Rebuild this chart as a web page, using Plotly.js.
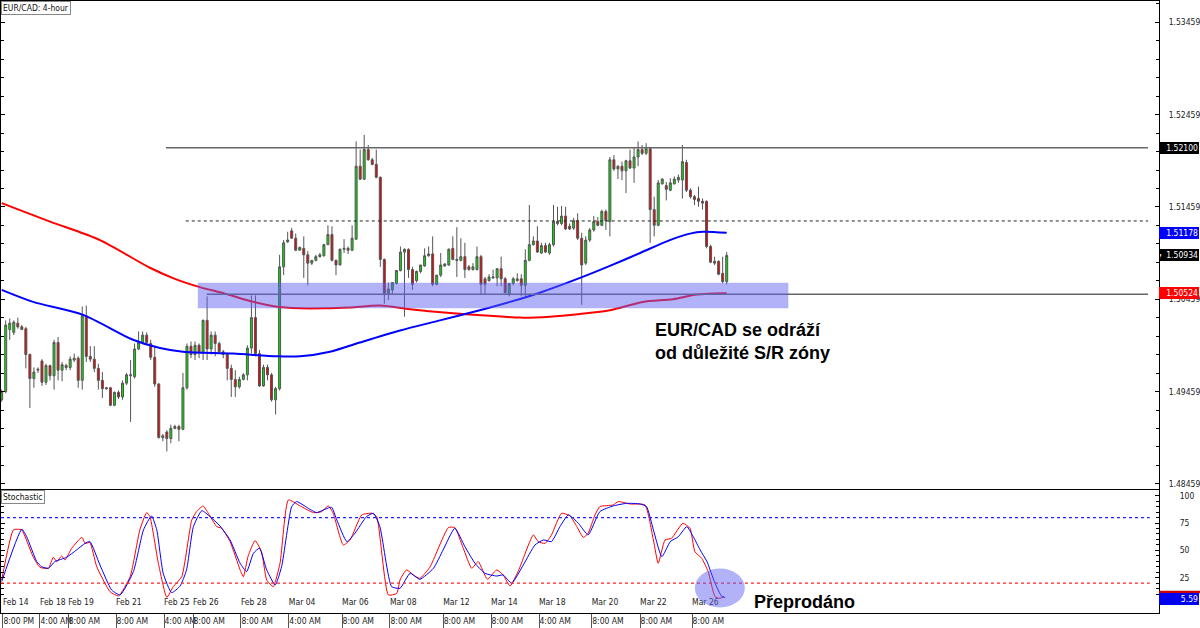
<!DOCTYPE html>
<html>
<head>
<meta charset="utf-8">
<script src="https://cdn.plot.ly/plotly-3.0.1.min.js"></script>
<style>html,body{margin:0;padding:0;background:#fff;}#chart{width:1200px;height:628px;}</style>
</head>
<body>
<div id="chart"></div>
<script>
// ---- EUR/CAD 4-hour candles (index 0 = first visible bar) ----
const open = [1.4937,1.4946,1.5013,1.5010,1.5020,1.5016,1.5014,1.4986,1.4960,1.4969,
1.4979,1.4956,1.4974,1.4963,1.4999,1.4969,1.4974,1.4972,1.4980,1.4982,
1.4958,1.5028,1.4984,1.4981,1.4971,1.4958,1.4950,1.4950,1.4931,1.4945,
1.4940,1.4955,1.4963,1.4962,1.4992,1.4999,1.5007,1.4998,1.4983,1.4954,
1.4896,1.4902,1.4895,1.4906,1.4908,1.4905,1.4950,1.4995,1.4986,1.4996,
1.4988,1.5023,1.4992,1.5007,1.4998,1.4989,1.4986,1.4971,1.4959,1.4951,
1.4959,1.4964,1.4993,1.5026,1.4987,1.4952,1.4972,1.4964,1.4937,1.4949,
1.5081,1.5108,1.5120,1.5112,1.5099,1.5101,1.5094,1.5085,1.5088,1.5092,
1.5093,1.5105,1.5116,1.5088,1.5083,1.5100,1.5101,1.5099,1.5111,1.5190,
1.5176,1.5208,1.5197,1.5192,1.5178,1.5089,1.5052,1.5056,1.5063,1.5077,
1.5097,1.5100,1.5078,1.5066,1.5076,1.5082,1.5093,1.5095,1.5062,1.5072,
1.5082,1.5083,1.5101,1.5089,1.5088,1.5092,1.5081,1.5078,1.5078,1.5092,
1.5068,1.5066,1.5069,1.5069,1.5079,1.5068,1.5051,1.5063,1.5066,1.5068,
1.5061,1.5088,1.5105,1.5109,1.5096,1.5104,1.5096,1.5105,1.5130,1.5128,
1.5136,1.5125,1.5123,1.5131,1.5112,1.5085,1.5110,1.5121,1.5130,1.5126,
1.5141,1.5130,1.5197,1.5187,1.5190,1.5185,1.5196,1.5188,1.5200,1.5208,
1.5204,1.5209,1.5143,1.5126,1.5171,1.5169,1.5164,1.5171,1.5175,1.5175,
1.5194,1.5164,1.5157,1.5155,1.5152,1.5152,1.5103,1.5087,1.5087,1.5074,
1.5065];
const high = [1.4948,1.5023,1.5025,1.5023,1.5026,1.5018,1.5016,1.4987,1.4972,1.4972,
1.4981,1.4976,1.4975,1.5002,1.5005,1.4978,1.4976,1.4984,1.4987,1.4984,
1.5038,1.5039,1.4995,1.4995,1.4976,1.4967,1.4951,1.4951,1.4946,1.4947,
1.4958,1.4966,1.4980,1.4998,1.5011,1.5011,1.5010,1.5002,1.4995,1.4955,
1.4900,1.4904,1.4910,1.4910,1.4910,1.4966,1.4998,1.5000,1.5000,1.4998,
1.5024,1.5049,1.5011,1.5011,1.5000,1.4991,1.4987,1.4975,1.4969,1.4962,
1.4966,1.4996,1.5050,1.5050,1.4991,1.4975,1.4975,1.4966,1.4951,1.5094,
1.5110,1.5119,1.5123,1.5117,1.5103,1.5114,1.5098,1.5088,1.5094,1.5096,
1.5106,1.5126,1.5125,1.5089,1.5101,1.5111,1.5103,1.5126,1.5217,1.5208,
1.5224,1.5213,1.5199,1.5208,1.5179,1.5090,1.5064,1.5064,1.5077,1.5103,
1.5101,1.5101,1.5081,1.5077,1.5083,1.5101,1.5103,1.5114,1.5072,1.5096,
1.5085,1.5101,1.5114,1.5124,1.5112,1.5107,1.5083,1.5085,1.5103,1.5094,
1.5070,1.5073,1.5078,1.5079,1.5092,1.5070,1.5063,1.5070,1.5074,1.5073,
1.5100,1.5148,1.5114,1.5125,1.5107,1.5107,1.5107,1.5148,1.5146,1.5147,
1.5146,1.5128,1.5134,1.5139,1.5118,1.5114,1.5123,1.5136,1.5135,1.5143,
1.5143,1.5200,1.5202,1.5191,1.5195,1.5197,1.5208,1.5210,1.5217,1.5213,
1.5215,1.5211,1.5157,1.5175,1.5177,1.5173,1.5177,1.5179,1.5181,1.5213,
1.5197,1.5166,1.5159,1.5168,1.5155,1.5153,1.5105,1.5092,1.5088,1.5092,
1.5097];
const low = [1.4935,1.4944,1.5002,1.5007,1.5014,1.5013,1.4971,1.4928,1.4950,1.4966,
1.4952,1.4953,1.4958,1.4948,1.4958,1.4957,1.4969,1.4969,1.4978,1.4950,
1.4948,1.4978,1.4978,1.4967,1.4948,1.4939,1.4948,1.4930,1.4930,1.4938,
1.4937,1.4953,1.4913,1.4960,1.4991,1.4997,1.4997,1.4980,1.4951,1.4895,
1.4892,1.4881,1.4890,1.4905,1.4892,1.4904,1.4948,1.4982,1.4980,1.4982,
1.4980,1.4980,1.4986,1.4984,1.4987,1.4982,1.4958,1.4940,1.4940,1.4949,
1.4958,1.4958,1.4987,1.4984,1.4951,1.4951,1.4958,1.4935,1.4921,1.4947,
1.5072,1.5107,1.5112,1.5098,1.5099,1.5069,1.5061,1.5083,1.5087,1.5091,
1.5092,1.5105,1.5087,1.5072,1.5083,1.5096,1.5095,1.5098,1.5110,1.5175,
1.5175,1.5196,1.5191,1.5177,1.5081,1.5041,1.5045,1.5052,1.5062,1.5076,
1.5027,1.5069,1.5056,1.5064,1.5074,1.5081,1.5092,1.5060,1.5061,1.5070,
1.5081,1.5082,1.5088,1.5070,1.5087,1.5069,1.5077,1.5077,1.5077,1.5051,
1.5051,1.5065,1.5068,1.5060,1.5060,1.5052,1.5049,1.5061,1.5065,1.5049,
1.5049,1.5087,1.5104,1.5096,1.5095,1.5096,1.5094,1.5103,1.5126,1.5126,
1.5121,1.5121,1.5121,1.5110,1.5040,1.5083,1.5108,1.5119,1.5125,1.5125,
1.5121,1.5114,1.5185,1.5176,1.5175,1.5161,1.5187,1.5172,1.5190,1.5202,
1.5202,1.5107,1.5114,1.5125,1.5170,1.5153,1.5163,1.5170,1.5172,1.5155,
1.5162,1.5155,1.5148,1.5146,1.5143,1.5101,1.5085,1.5083,1.5072,1.5063,
1.5062];
const close = [1.4946,1.5018,1.5020,1.5021,1.5016,1.5013,1.4986,1.4960,1.4967,1.4970,
1.4956,1.4974,1.4963,1.4999,1.4969,1.4975,1.4972,1.4981,1.4982,1.4958,
1.5028,1.4984,1.4981,1.4971,1.4958,1.4949,1.4949,1.4931,1.4945,1.4940,
1.4955,1.4964,1.4964,1.4992,1.4999,1.5007,1.4999,1.4983,1.4954,1.4896,
1.4898,1.4895,1.4906,1.4908,1.4905,1.4950,1.4995,1.4986,1.4996,1.4988,
1.5023,1.4992,1.5007,1.4998,1.4989,1.4986,1.4971,1.4959,1.4951,1.4959,
1.4964,1.4993,1.5026,1.4987,1.4952,1.4972,1.4964,1.4937,1.4949,1.5081,
1.5107,1.5110,1.5112,1.5099,1.5102,1.5094,1.5085,1.5088,1.5092,1.5094,
1.5105,1.5116,1.5088,1.5083,1.5100,1.5101,1.5099,1.5112,1.5190,1.5176,
1.5208,1.5197,1.5192,1.5178,1.5089,1.5052,1.5057,1.5064,1.5077,1.5097,
1.5100,1.5078,1.5062,1.5076,1.5083,1.5093,1.5095,1.5062,1.5072,1.5083,
1.5084,1.5100,1.5089,1.5088,1.5092,1.5078,1.5078,1.5081,1.5092,1.5062,
1.5062,1.5070,1.5070,1.5079,1.5068,1.5053,1.5063,1.5068,1.5068,1.5061,
1.5088,1.5105,1.5109,1.5097,1.5104,1.5097,1.5105,1.5130,1.5128,1.5136,
1.5122,1.5122,1.5131,1.5112,1.5083,1.5110,1.5121,1.5130,1.5126,1.5141,
1.5131,1.5197,1.5187,1.5190,1.5185,1.5196,1.5188,1.5200,1.5208,1.5204,
1.5209,1.5143,1.5126,1.5172,1.5176,1.5165,1.5172,1.5176,1.5178,1.5195,
1.5164,1.5157,1.5154,1.5152,1.5150,1.5103,1.5086,1.5085,1.5073,1.5065,
1.50934];

// ---- moving averages (read at sample bars) ----
const redMAx  = [0,12.0,24.4,36.8,43.0,49.2,55.4,61.6,67.9,74.1,80.3,86.5,93.9,101.4,111.3,121.2,128.7,136.1,143.6,151.0,159.2,166.7,172.6,180];
const redMA   = [1.5150,1.5130,1.5110,1.5080,1.5068,1.5059,1.5052,1.5044,1.5038,1.5036,1.5036,1.5037,1.5039,1.5035,1.5031,1.5028,1.5026,1.5027,1.5030,1.5034,1.5043,1.5046,1.5051,1.50524];
const blueMAx = [0,7.8,20.2,32.6,39.3,45.0,57.4,68.4,74.1,81.5,88.9,98.9,108.8,118.7,126.2,133.6,143.6,151.0,158.5,165.9,170.9,174.1,180];
const blueMA  = [1.5056,1.5043,1.5029,1.5002,1.4993,1.4989,1.4987,1.4984,1.4984,1.4989,1.4999,1.5012,1.5023,1.5034,1.5043,1.5053,1.5069,1.5082,1.5096,1.5110,1.5117,1.5119,1.51178];

// ---- stochastic (%K red, %D blue) ----
const stochKx = [0,2.9,4.1,5.0,7.8,9.5,11.6,12.8,13.7,14.9,15.7,17.4,19.9,20.7,21.9,23.6,26.9,29.0,31.9,34.3,36.0,36.8,38.9,41.0,42.6,44.7,47.2,48.4,50.0,51.3,53.4,54.6,56.7,59.2,60.0,61.2,62.9,64.5,65.8,67.4,69.1,71.2,74.1,77.4,79.4,81.1,82.3,84.8,86.5,89.4,91.9,93.1,96.0,98.1,98.9,100.5,102.2,103.8,106.3,110.9,112.5,114.6,116.7,118.3,120.6,122.9,124.5,126.2,128.3,132.0,133.2,134.9,136.5,139.0,141.1,142.8,144.4,145.6,147.3,148.5,151.8,153.1,156.0,159.7,161.8,163.0,164.7,166.3,169.1,170.9,172.1,173.8,175.4,177.1,178.3,179.3];
const stochK  = [22.9,68.7,69.3,68.7,44.2,34.5,33.6,43.6,39.7,44.9,41.2,51.9,61.9,56.4,57.1,35.1,12.2,8.3,26,68.7,84.5,80.9,38.2,7.0,16.8,25.9,77.8,85.4,90.6,83.9,71.7,70.2,58,32.1,25.9,44.9,58.9,48.8,22.9,16.8,38.2,96.1,90.6,84.5,85.4,90.6,83.9,54.9,59.5,82.4,83.9,80.9,9.2,10.7,22.9,32.1,27.5,24.4,34.5,70.8,70.8,51.9,33.6,39.7,23.5,32.1,27.5,17.4,31.4,64.1,58,56.4,64.1,83.9,81.5,71.7,61.9,65.6,82.4,90,91.5,94.6,92.4,91.5,59.5,38.2,59.5,61,74.7,70.2,48.8,42.7,30.5,7.7,6.1,7.7];
const stochDx = [0,5.0,6.2,8.7,9.9,11.6,13.2,16.1,18.6,20.7,21.9,24.4,27.3,29.4,32.7,35.2,37.2,38.5,40.1,42.2,44.3,45.9,47.6,49.7,51.7,54.2,56.7,59.2,60.8,62.5,64.0,65.8,67.9,69.5,72.0,73.2,76.5,78.2,80.3,81.9,83.2,85.7,87.7,90.6,92.3,93.9,96.8,98.9,101.4,103.8,107.2,109.6,112.5,115.0,117.5,120.0,122.9,124.5,126.6,129.5,132.4,134.5,136.5,138.6,140.7,143.2,145.6,148.5,151.8,155.2,158.5,160.1,161.8,163.9,166.0,168.0,170.1,171.7,173.4,175.1,177.1,178.8,179.6];
const stochD  = [21.4,69.3,62.5,39.7,35.1,33.6,39.7,43.6,50.4,56.4,58,36.6,13.7,9.2,30.5,68.7,81.5,68.7,29,11.3,17.4,32.1,71.7,86.3,80.9,72.3,59.5,38.2,30.5,47.3,51.9,32.1,18.3,35.1,90,94.6,87.6,84.5,87.6,89.4,77.8,58,65.6,80.9,83.9,71.7,16.8,15.3,29,23.5,33.6,50.4,70.2,53.4,38.2,29,26.5,27.5,19.9,36.6,54.9,59.5,58,71.7,82.4,74.7,64.1,85.4,90.6,93,92.4,90,68.7,44.2,58,62.5,71.7,62.5,50.4,39.7,19.9,7.7,7.0];

// ---- axis labels ----
const tickAt    = [0.3,9.5,16.5,28.4,40.3,47.5,59.4,71.3,84.5,96.4,109.6,121.5,133.4,146.5,158.5,171.4];
const dateLbl   = ["Feb 14","Feb 18","Feb 19","Feb 21","Feb 25","Feb 26","Feb 28","Mar 04","Mar 06","Mar 08","Mar 12","Mar 14","Mar 18","Mar 20","Mar 22","Mar 26"];
const timeLbl   = ["8:00 PM","4:00 AM","8:00 AM","8:00 AM","4:00 AM","8:00 AM","8:00 AM","4:00 AM","8:00 AM","8:00 AM","8:00 AM","8:00 AM","4:00 AM","8:00 AM","8:00 AM","8:00 AM"];
const priceTicks = [1.48459,1.49459,1.50459,1.51459,1.52459,1.53459];
const stochTicks = [0,25,50,75,100];

// ---- levels & markers ----
const resistance = 1.52100, midLevel = 1.51307, support = 1.50513;
const zoneLow = 1.50361, zoneHigh = 1.50638;
const lastK = 11.9, lastD = 5.59;

const NF = "'DejaVu Sans Condensed','Liberation Sans Narrow','Arial Narrow',sans-serif";
const BF = "'Liberation Sans',Arial,sans-serif";
const SF = 8.5;
const idx = open.map((_, i) => i);
const xRange = [-0.17, 287.33];

const traces = [
  {type:'candlestick', x:idx, open:open, high:high, low:low, close:close, xaxis:'x', yaxis:'y',
   increasing:{fillcolor:'#00e000', line:{color:'#555', width:1}},
   decreasing:{fillcolor:'#ee0000', line:{color:'#555', width:1}},
   hoverinfo:'skip', showlegend:false},
  {type:'scatter', mode:'lines', x:redMAx, y:redMA, xaxis:'x', yaxis:'y',
   line:{color:'#ff0000', width:2, shape:'spline', smoothing:0.8}, hoverinfo:'skip'},
  {type:'scatter', mode:'lines', x:blueMAx, y:blueMA, xaxis:'x', yaxis:'y',
   line:{color:'#0000ff', width:2, shape:'spline', smoothing:0.8}, hoverinfo:'skip'},
  {type:'scatter', mode:'lines', x:stochKx, y:stochK, xaxis:'x2', yaxis:'y2',
   line:{color:'#ff0000', width:1, shape:'spline', smoothing:0.5}, hoverinfo:'skip'},
  {type:'scatter', mode:'lines', x:stochDx, y:stochD, xaxis:'x2', yaxis:'y2',
   line:{color:'#0000ff', width:1, shape:'spline', smoothing:0.5}, hoverinfo:'skip'},
  {type:'scatter', mode:'markers', x:[tickAt[0]], y:[50], xaxis:'x3', yaxis:'y2', marker:{opacity:0}, hoverinfo:'skip'},
  {type:'scatter', mode:'markers', x:[tickAt[0]], y:[50], xaxis:'x4', yaxis:'y2', marker:{opacity:0}, hoverinfo:'skip'}
];

const mainDomain = [0.2026, 1];
const stochDomain = [0, 0.20098];

const shapes = [
  {type:'line', xref:'x', yref:'y', x0:40.8, x1:284.6, y0:resistance, y1:resistance, line:{color:'#666', width:1.5}},
  {type:'line', xref:'x', yref:'y', x0:45.7, x1:284.6, y0:midLevel, y1:midLevel, line:{color:'#222', width:1, dash:'dot'}},
  {type:'line', xref:'x', yref:'y', x0:50.9, x1:284.6, y0:support, y1:support, line:{color:'#666', width:1.5}},
  {type:'rect', xref:'x', yref:'y', x0:48.7, x1:195.3, y0:zoneLow, y1:zoneHigh, fillcolor:'rgba(95,95,240,0.48)', line:{width:0}},
  {type:'line', xref:'paper', yref:'y2', x0:0, x1:0.992, y0:80, y1:80, line:{color:'#2222ff', width:1.2, dash:'dot'}},
  {type:'line', xref:'paper', yref:'y2', x0:0, x1:0.992, y0:20, y1:20, line:{color:'#ff2222', width:1.2, dash:'dot'}},
  {type:'circle', xref:'x2', yref:'y2', x0:172.1, x1:184.5, y0:-2.2, y1:33.4, fillcolor:'rgba(95,95,240,0.48)', line:{width:0}},
  {type:'rect', xref:'paper', yref:'y2', x0:1, x1:1.0354, y0:lastK-1.2, y1:lastK+1.2, fillcolor:'#cc0000', line:{width:0}}
];

function box(y, yref, txt, bg){
  return {xref:'paper', x:1, xanchor:'left', yref:yref, y:y, yanchor:'middle', text:txt, showarrow:false,
    bgcolor:bg, font:{family:NF, size:SF, color:'#fff'}, width:38, height:10, align:'right', borderpad:1, borderwidth:0};
}

const annotations = [
  {xref:'paper', x:0, xanchor:'left', yref:'paper', y:1, yanchor:'top', text:'EUR/CAD: 4-hour', showarrow:false,
   font:{family:NF, size:SF, color:'#111'}, bgcolor:'#fff', bordercolor:'#888', borderwidth:1, borderpad:1},
  {xref:'paper', x:0, xanchor:'left', yref:'y2 domain', y:1, yanchor:'top', text:'Stochastic', showarrow:false,
   font:{family:NF, size:SF, color:'#111'}, bgcolor:'#fff', bordercolor:'#888', borderwidth:1, borderpad:1},
  box(resistance, 'y', '1.52100', '#000'),
  box(blueMA[blueMA.length-1], 'y', '1.51178', '#0000ff'),
  box(close[close.length-1], 'y', "<span style='font-size:6px'>▼</span>  1.50934", '#000'),
  box(redMA[redMA.length-1], 'y', '1.50524', '#ff0000'),
  box(lastD, 'y2', '5.59', '#0000ee'),
  {xref:'x', x:161.6, xanchor:'left', yref:'y', y:1.49996, yanchor:'middle', align:'left', showarrow:false,
   text:'<b>EUR/CAD se odráží<br>od důležité S/R zóny</b>', font:{family:BF, size:18, color:'#000'}},
  {xref:'x2', x:186.4, xanchor:'left', yref:'y2', y:3.0, yanchor:'middle', showarrow:false,
   text:'<b>Přeprodáno</b>', font:{family:BF, size:18, color:'#000'}}
];

const layout = {
  width:1200, height:628, margin:{l:1, r:41, t:1, b:15},
  paper_bgcolor:'#fff', plot_bgcolor:'#fff', showlegend:false, hovermode:false,
  xaxis:{domain:[0,1], anchor:'y', range:xRange, showticklabels:false, ticks:'', showgrid:false, zeroline:false,
    showline:true, mirror:true, linecolor:'#000', linewidth:1, rangeslider:{visible:false}},
  yaxis:{domain:mainDomain, anchor:'x', side:'right', range:[1.48403,1.53690], showgrid:false, zeroline:false,
    tickmode:'array', tickvals:priceTicks, ticktext:priceTicks.map(v=>v.toFixed(5)),
    ticks:'inside', ticklen:4, tickcolor:'#000', showline:true, mirror:'ticks', linecolor:'#000', linewidth:1,
    ticklabelstandoff:7, tickfont:{family:NF, size:SF, color:'#222'},
    minor:{tickmode:'linear', tick0:1.48459, dtick:0.002, ticks:'inside', ticklen:3, tickcolor:'#000', showgrid:false}},
  xaxis2:{domain:[0,1], anchor:'y2', range:xRange, showgrid:false, zeroline:false, showline:true, mirror:true,
    linecolor:'#000', linewidth:1, ticks:'', tickmode:'array', tickvals:tickAt, ticktext:timeLbl, tickangle:0,
    ticklabelposition:'outside right', tickfont:{family:NF, size:SF, color:'#222'}},
  xaxis3:{overlaying:'x2', anchor:'y2', range:xRange, showgrid:false, zeroline:false, showline:false,
    tickmode:'array', tickvals:tickAt, ticks:'outside', ticklen:15, tickcolor:'#555', tickwidth:1, showticklabels:false},
  xaxis4:{overlaying:'x2', anchor:'y2', range:xRange, showgrid:false, zeroline:false, showline:false,
    tickmode:'array', tickvals:tickAt, ticktext:dateLbl, ticks:'', ticklabelposition:'inside right', tickangle:0,
    tickfont:{family:NF, size:SF, color:'#222'}},
  yaxis2:{domain:stochDomain, anchor:'x2', side:'right', range:[-7.32,105.2], showgrid:false, zeroline:false,
    tickmode:'array', tickvals:stochTicks, ticks:'inside', ticklen:4, tickcolor:'#000',
    showline:true, mirror:'ticks', linecolor:'#000', linewidth:1, ticklabelstandoff:18,
    tickfont:{family:NF, size:SF, color:'#222'},
    minor:{tickmode:'linear', tick0:0, dtick:5, ticks:'inside', ticklen:3, tickcolor:'#000', showgrid:false}},
  shapes:shapes, annotations:annotations
};

Plotly.newPlot('chart', traces, layout, {displayModeBar:false, staticPlot:true});
</script>
</body>
</html>
